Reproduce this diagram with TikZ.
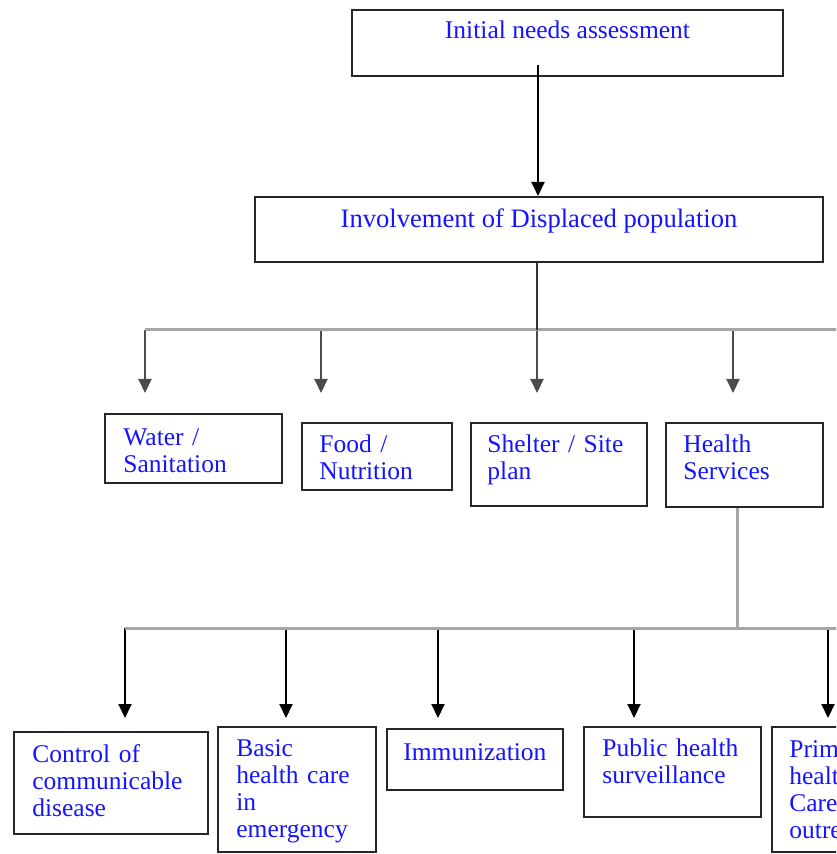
\documentclass[tikz,border=0pt]{standalone}
\usepackage{fontspec}
\setmainfont{Liberation Serif}
\usepackage{xcolor}
\usetikzlibrary{arrows.meta,fit}
\definecolor{textblue}{RGB}{20,20,255}
\definecolor{bargray}{RGB}{165,165,165}
\newcommand{\lblfont}{\fontsize{12.75}{13.6}\selectfont}
\tikzset{
  box/.style={draw=black!85,line width=1pt,inner sep=0pt},
  head/.style={font=\lblfont,text=textblue,inner sep=0pt,anchor=base},
  lbl/.style={font=\lblfont,text=textblue,inner sep=0pt,anchor=base west,text width=110pt,align=left},
  arr/.style={-{Triangle[width=6.5pt,length=7pt]},line width=1pt},
  bar/.style={line width=1.5pt,draw=bargray},
  stem/.style={line width=1pt,draw=black!80}
}
\begin{document}
\begin{tikzpicture}[x=0.5pt,y=-0.5pt]
  \useasboundingbox (0,0) rectangle (836,854);
  \clip (0,0) rectangle (836,854);
  % top two boxes
  \node[box,fit={(352,10) (783,76)}] (init) {};
  \node[head] (initT) at (567.5,39) {Initial needs assessment};
  \node[box,fit={(255,197) (823,262)}] (inv) {};
  \node[head,font=\fontsize{13.3}{14}\selectfont] (invT) at (539,228) {Involvement of Displaced population};
  \coordinate (a0) at (538,65);
  \draw[arr] (a0) -- (a0 |- inv.north);
  % first branch
  \foreach \x [count=\i] in {145,321,537,733}{
    \coordinate (top\i) at (\x,330);
    \coordinate (tip\i) at (\x,393);
    \draw[arr,draw=black!70] (top\i) -- (tip\i);
  }
  \coordinate (barEnd1) at (840,330);
  \draw[bar] (top1) -- (barEnd1);
  \draw[stem] (inv.south -| top3) -- (top3);
  % services
  \node[box,fit={(105,414) (282,483)}] (water) {};
  \node[lbl] (waterT) at (123,445) {Water /\\Sanitation};
  \node[box,fit={(302,423) (452,490)}] (food) {};
  \node[lbl] (foodT) at (319,452) {Food /\\Nutrition};
  \node[box,fit={(471,423) (647,506)}] (shelter) {};
  \node[lbl] (shelterT) at (487,452) {Shelter / Site\\plan};
  \node[box,fit={(666,423) (823,507)}] (health) {};
  \node[lbl] (healthT) at (683,452) {Health\\Services};
  % second branch
  \coordinate (hub) at (737,628);
  \draw[bar] (health.south -| hub) -- (hub);
  \foreach \x [count=\i] in {125,286,438,634,828}{
    \coordinate (low\i) at (\x,628);
    \coordinate (end\i) at (\x,718);
    \draw[arr] (low\i) -- (end\i);
  }
  \coordinate (barEnd2) at (840,628);
  \draw[bar] (low1) -- (barEnd2);
  % health services
  \node[box,fit={(14,732) (208,834)}] (ctrl) {};
  \node[lbl] (ctrlT) at (32,762) {Control of\\communicable\\disease};
  \node[box,fit={(218,727) (376,852)}] (basic) {};
  \node[lbl] (basicT) at (236,756) {Basic\\health care\\in\\emergency};
  \node[box,fit={(387,729) (563,790)}] (immun) {};
  \node[lbl] (immunT) at (403,760) {Immunization};
  \node[box,fit={(584,727) (761,817)}] (surv) {};
  \node[lbl] (survT) at (602,756) {Public health\\surveillance};
  \node[box,fit={(772,727) (960,852)}] (prim) {};
  \node[lbl] (primT) at (789,757) {Primary\\health\\Care /\\outreach};
\end{tikzpicture}
\end{document}
